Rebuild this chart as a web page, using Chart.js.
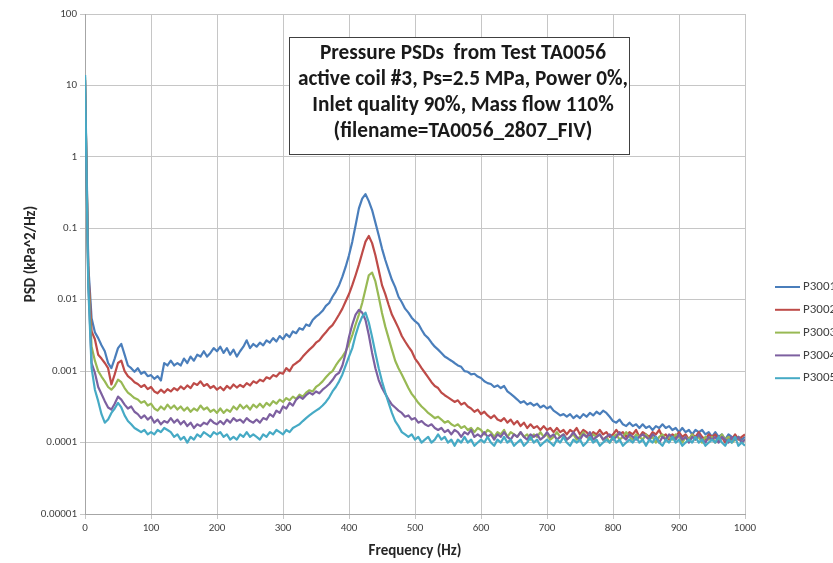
<!DOCTYPE html>
<html>
<head>
<meta charset="utf-8">
<script src="https://cdn.jsdelivr.net/npm/chart.js@4/dist/chart.umd.min.js"></script>
<style>
  html, body { margin: 0; padding: 0; background: #fff; }
  #wrap { width: 833px; height: 563px; }
</style>
</head>
<body>
<div id="wrap"><canvas id="psd" width="833" height="563"></canvas></div>
<script>
// sample frequencies (Hz)
var freq = [
  0, 5, 10, 15, 20, 25, 30, 35, 40, 45, 50, 55, 60, 65, 70, 75, 80, 85, 90, 95,
  100, 105, 110, 115, 120, 125, 130, 135, 140, 145, 150, 155, 160, 165, 170, 175, 180, 185, 190, 195,
  200, 205, 210, 215, 220, 225, 230, 235, 240, 245, 250, 255, 260, 265, 270, 275, 280, 285, 290, 295,
  300, 305, 310, 315, 320, 325, 330, 335, 340, 345, 350, 355, 360, 365, 370, 375, 380, 385, 390, 395,
  400, 405, 410, 415, 420, 425, 430, 435, 440, 445, 450, 455, 460, 465, 470, 475, 480, 485, 490, 495,
  500, 505, 510, 515, 520, 525, 530, 535, 540, 545, 550, 555, 560, 565, 570, 575, 580, 585, 590, 595,
  600, 605, 610, 615, 620, 625, 630, 635, 640, 645, 650, 655, 660, 665, 670, 675, 680, 685, 690, 695,
  700, 705, 710, 715, 720, 725, 730, 735, 740, 745, 750, 755, 760, 765, 770, 775, 780, 785, 790, 795,
  800, 805, 810, 815, 820, 825, 830, 835, 840, 845, 850, 855, 860, 865, 870, 875, 880, 885, 890, 895,
  900, 905, 910, 915, 920, 925, 930, 935, 940, 945, 950, 955, 960, 965, 970, 975, 980, 985, 990, 995,
  1000
];

var p3001 = [
  14, 0.03, 0.0055, 0.0035, 0.0029, 0.0023, 0.0019, 0.0013, 0.0011, 0.0015,
  0.0021, 0.0024, 0.0017, 0.0012, 0.0011, 0.00098, 0.0011, 0.00092, 0.00098, 0.00085,
  0.00088, 0.00078, 0.00085, 0.00074, 0.0013, 0.0012, 0.0014, 0.0012, 0.0013, 0.0012,
  0.0015, 0.0013, 0.0016, 0.0014, 0.0017, 0.0016, 0.0019, 0.0016, 0.0018, 0.0021,
  0.0019, 0.0022, 0.0018, 0.0021, 0.0017, 0.0020, 0.0016, 0.0019, 0.0022, 0.0027,
  0.0021, 0.0024, 0.0022, 0.0025, 0.0023, 0.0027, 0.0025, 0.0029, 0.0026, 0.0031,
  0.0028, 0.0033, 0.0030, 0.0036, 0.0034, 0.0040, 0.0038, 0.0045, 0.0043, 0.0052,
  0.0058, 0.0063, 0.0070, 0.0082, 0.0090, 0.011, 0.013, 0.016, 0.021, 0.029,
  0.042, 0.065, 0.11, 0.19, 0.26, 0.30, 0.24, 0.18, 0.12, 0.080,
  0.052, 0.036, 0.026, 0.019, 0.015, 0.011, 0.0092, 0.0075, 0.0066, 0.0056,
  0.0050, 0.0046, 0.0038, 0.0032, 0.0029, 0.0025, 0.0022, 0.0020, 0.0018, 0.0016,
  0.0015, 0.0014, 0.0013, 0.0012, 0.00115, 0.0010, 0.00098, 0.00090, 0.00092, 0.00084,
  0.00080, 0.00072, 0.00068, 0.00066, 0.00060, 0.00063, 0.00058, 0.00062, 0.00052, 0.00048,
  0.00044, 0.00040, 0.00036, 0.00038, 0.00034, 0.00036, 0.00033, 0.00035, 0.00031, 0.00033,
  0.00030, 0.00032, 0.00028, 0.00026, 0.00024, 0.00025, 0.00023, 0.00025, 0.00022, 0.00024,
  0.00022, 0.00025, 0.00023, 0.00026, 0.00024, 0.00027, 0.00025, 0.00028, 0.00026, 0.00023,
  0.00020, 0.00019, 0.00021, 0.00018, 0.00017, 0.00019, 0.00017, 0.00018, 0.00016, 0.00018,
  0.00016, 0.00017, 0.00015, 0.00017, 0.00016, 0.00018, 0.00016, 0.00017, 0.00015, 0.00016,
  0.00014, 0.00016, 0.00014, 0.00015, 0.00013, 0.00015, 0.00014, 0.00015, 0.00013, 0.00014,
  0.00012, 0.00014, 0.00012, 0.00013, 0.00011, 0.00013, 0.00012, 0.00011, 0.00012, 0.00011,
  0.00012
];

var p3002 = [
  12, 0.025, 0.0036, 0.0028, 0.0017, 0.0015, 0.0013, 0.0011, 0.00065, 0.0009,
  0.0013, 0.0014, 0.0010, 0.00085, 0.00078, 0.00070, 0.00066, 0.00060, 0.00064, 0.00056,
  0.00060, 0.00052, 0.00049, 0.00055, 0.00050, 0.00056, 0.00052, 0.00058, 0.00054, 0.00061,
  0.00056, 0.00063, 0.00058, 0.00068, 0.00064, 0.00072, 0.00062, 0.00066, 0.00058, 0.00062,
  0.00055, 0.00060, 0.00054, 0.00062, 0.00057, 0.00065, 0.00059, 0.00064, 0.00060, 0.00068,
  0.00063, 0.00072, 0.00068, 0.00076, 0.00072, 0.00082, 0.00078, 0.00088, 0.00084, 0.00095,
  0.00092, 0.0011, 0.0010, 0.0012, 0.0013, 0.0014, 0.0016, 0.0018, 0.0020, 0.0022,
  0.0025, 0.0027, 0.0031, 0.0035, 0.0040, 0.0044, 0.0052, 0.0062, 0.0075, 0.0095,
  0.012, 0.016, 0.022, 0.031, 0.045, 0.065, 0.078, 0.062, 0.042, 0.026,
  0.016, 0.012, 0.0085, 0.0062, 0.0050, 0.0040, 0.0031, 0.0026, 0.0022, 0.0019,
  0.0015, 0.0013, 0.0011, 0.00095, 0.00082, 0.00070, 0.00062, 0.00058, 0.00050, 0.00046,
  0.00043, 0.00040, 0.00037, 0.00039, 0.00034, 0.00036, 0.00032, 0.00030, 0.00027, 0.00029,
  0.00025, 0.00027, 0.00024, 0.00022, 0.00024, 0.00021, 0.00020, 0.00022, 0.00019, 0.00021,
  0.00018, 0.00020, 0.00017, 0.00019, 0.00016, 0.00018, 0.00016, 0.00017, 0.00015, 0.00017,
  0.00015, 0.00016, 0.00014, 0.00016, 0.00014, 0.00015, 0.00013, 0.00015, 0.00014, 0.00016,
  0.00013, 0.00015, 0.00014, 0.00012, 0.00014, 0.00013, 0.00015, 0.00013, 0.00014, 0.00012,
  0.00013, 0.00015, 0.00013, 0.00014, 0.00012, 0.00014, 0.00013, 0.00015, 0.00012, 0.00014,
  0.00013, 0.00012, 0.00014, 0.00013, 0.00015, 0.00012, 0.00013, 0.00011, 0.00013, 0.00012,
  0.00014, 0.00012, 0.00013, 0.00011, 0.00013, 0.00012, 0.00014, 0.00012, 0.00011, 0.00013,
  0.00012, 0.00013, 0.00011, 0.00012, 0.00010, 0.00012, 0.00011, 0.00013, 0.00011, 0.00012,
  0.00013
];

var p3003 = [
  13, 0.02, 0.0022, 0.0014, 0.0010, 0.00084, 0.00072, 0.00060, 0.00055, 0.00062,
  0.00076, 0.00070, 0.00058, 0.00050, 0.00046, 0.00042, 0.00040, 0.00036, 0.00038, 0.00033,
  0.00035, 0.00030, 0.00028, 0.00032, 0.00029, 0.00034, 0.00030, 0.00033, 0.00029, 0.00032,
  0.00028, 0.00031, 0.00027, 0.00030, 0.00028, 0.00033, 0.00029, 0.00031, 0.00027, 0.00029,
  0.00026, 0.00030, 0.00026, 0.00029, 0.00027, 0.00032, 0.00029, 0.00034, 0.00030, 0.00033,
  0.00029, 0.00034, 0.00031, 0.00035, 0.00031, 0.00036, 0.00033, 0.00038, 0.00035, 0.00040,
  0.00037, 0.00042, 0.00039, 0.00044, 0.00041, 0.00047, 0.00044, 0.00050, 0.00054, 0.00052,
  0.00060, 0.00065, 0.00072, 0.00082, 0.00092, 0.0010, 0.0012, 0.0014, 0.0016, 0.0019,
  0.0024, 0.0032, 0.0045, 0.0062, 0.0090, 0.014, 0.022, 0.024, 0.018, 0.011,
  0.0065, 0.0042, 0.0029, 0.0020, 0.0014, 0.0011, 0.00090, 0.00072, 0.00058, 0.00048,
  0.00042, 0.00036, 0.00032, 0.00029, 0.00026, 0.00024, 0.00022, 0.00023, 0.00021, 0.00019,
  0.00020, 0.00018, 0.00017, 0.00018, 0.00016, 0.00017, 0.00015, 0.00016, 0.00014, 0.00016,
  0.00015, 0.00013, 0.00015, 0.00014, 0.00012, 0.00014, 0.00013, 0.00015, 0.00012, 0.00014,
  0.00013, 0.00012, 0.00014, 0.00012, 0.00013, 0.00011, 0.00013, 0.00012, 0.00014, 0.00012,
  0.00013, 0.00011, 0.00012, 0.00014, 0.00012, 0.00013, 0.00011, 0.00012, 0.00013, 0.00011,
  0.00012, 0.00014, 0.00012, 0.00011, 0.00013, 0.00012, 0.00013, 0.00011, 0.00012, 0.00010,
  0.00012, 0.00013, 0.00011, 0.00012, 0.00014, 0.00012, 0.00011, 0.00013, 0.00012, 0.00011,
  0.00013, 0.00011, 0.00012, 0.00010, 0.00012, 0.00013, 0.00011, 0.00012, 0.00011, 0.00013,
  0.00012, 0.00010, 0.00012, 0.00011, 0.00013, 0.00011, 0.00012, 0.00010, 0.00012, 0.00011,
  0.00012, 0.00010, 0.00011, 0.00013, 0.00011, 0.00012, 0.00010, 0.00011, 0.00012, 0.00010,
  0.00011
];

var p3004 = [
  12, 0.018, 0.0013, 0.00095, 0.00060, 0.00048, 0.00038, 0.00031, 0.00029, 0.00035,
  0.00044, 0.00040, 0.00034, 0.00030, 0.00032, 0.00027, 0.00025, 0.00022, 0.00024, 0.00021,
  0.00023, 0.00019, 0.00021, 0.00018, 0.00020, 0.00019, 0.00022, 0.00019, 0.00021, 0.00018,
  0.00020, 0.00017, 0.00019, 0.00016, 0.00018, 0.00017, 0.00019, 0.00018, 0.00021, 0.00019,
  0.00018, 0.00020, 0.00018, 0.00021, 0.00019, 0.00022, 0.00020, 0.00021, 0.00019, 0.00022,
  0.00020, 0.00019, 0.00021, 0.00019, 0.00022, 0.00021, 0.00025, 0.00023, 0.00028, 0.00026,
  0.00032, 0.00030, 0.00036, 0.00033, 0.00040, 0.00044, 0.00041, 0.00046, 0.00050, 0.00047,
  0.00052, 0.00049, 0.00055, 0.00060, 0.00066, 0.00075, 0.00088, 0.00095, 0.0012, 0.0018,
  0.0030, 0.0045, 0.0062, 0.0072, 0.0066, 0.0052, 0.0032, 0.0018, 0.0011, 0.00075,
  0.00058, 0.00048, 0.00040, 0.00034, 0.00031, 0.00028, 0.00026, 0.00023, 0.00024, 0.00021,
  0.00022, 0.00019, 0.00020, 0.00018, 0.00017, 0.00018, 0.00016, 0.00015, 0.00016, 0.00014,
  0.00015, 0.00013, 0.00015, 0.00014, 0.00012, 0.00014, 0.00013, 0.00015, 0.00012, 0.00013,
  0.00012, 0.00014, 0.00012, 0.00013, 0.00011, 0.00013, 0.00012, 0.00014, 0.00012, 0.00011,
  0.00013, 0.00012, 0.00014, 0.00012, 0.00011, 0.00013, 0.00012, 0.00013, 0.00011, 0.00012,
  0.00014, 0.00012, 0.00013, 0.00011, 0.00012, 0.00013, 0.00011, 0.00012, 0.00014, 0.00012,
  0.00011, 0.00013, 0.00012, 0.00014, 0.00011, 0.00012, 0.00013, 0.00011, 0.00012, 0.00013,
  0.00011, 0.00012, 0.00014, 0.00012, 0.00011, 0.00013, 0.00012, 0.00011, 0.00012, 0.00013,
  0.00012, 0.00011, 0.00013, 0.00012, 0.00010, 0.00012, 0.00011, 0.00013, 0.00012, 0.00011,
  0.00013, 0.00011, 0.00012, 0.00010, 0.00012, 0.00011, 0.00013, 0.00011, 0.00010, 0.00012,
  0.00011, 0.00012, 0.00010, 0.00012, 0.00011, 0.00010, 0.00012, 0.00011, 0.00012, 0.00010,
  0.00011
];

var p3005 = [
  14, 0.015, 0.0011, 0.00055, 0.00038, 0.00025, 0.00019, 0.00021, 0.00026, 0.00030,
  0.00036, 0.00031, 0.00024, 0.00020, 0.00018, 0.00016, 0.00015, 0.00014, 0.00015, 0.00013,
  0.00014, 0.00013, 0.00015, 0.00014, 0.00016, 0.00015, 0.00014, 0.00012, 0.00013, 0.00011,
  0.00012, 0.00010, 0.00012, 0.00011, 0.00013, 0.00012, 0.00014, 0.00013, 0.00012, 0.00014,
  0.00013, 0.00014, 0.00012, 0.00013, 0.00011, 0.00012, 0.00011, 0.00013, 0.00012, 0.00014,
  0.00012, 0.00013, 0.00012, 0.00011, 0.00013, 0.00012, 0.00014, 0.00013, 0.00015, 0.00014,
  0.00013, 0.00015, 0.00014, 0.00016, 0.00017, 0.00018, 0.00020, 0.00022, 0.00024, 0.00026,
  0.00028, 0.00030, 0.00033, 0.00037, 0.00043, 0.00052, 0.00060, 0.00072, 0.00090, 0.0012,
  0.0016, 0.0021, 0.0032, 0.0045, 0.0058, 0.0066, 0.0048, 0.0030, 0.0018, 0.0011,
  0.00072, 0.00050, 0.00036, 0.00026, 0.00020, 0.00017, 0.00014, 0.00013, 0.00012, 0.00013,
  0.00011, 0.00012, 0.00010, 0.00011, 0.00012, 0.00010, 0.00011, 0.00013, 0.00011, 0.00012,
  0.00010, 0.00011, 0.00009, 0.00011, 0.00010, 0.00012, 0.00010, 0.00011, 0.00009, 0.00010,
  0.00011, 0.00010, 0.00012, 0.00010, 0.00009, 0.00011, 0.00010, 0.00012, 0.00010, 0.00011,
  0.00009, 0.00010, 0.00011, 0.00009, 0.00010, 0.00012, 0.00010, 0.00011, 0.00009, 0.00010,
  0.00011, 0.00010, 0.00009, 0.00011, 0.00010, 0.00012, 0.00010, 0.00009, 0.00011, 0.00010,
  0.00011, 0.00009, 0.00010, 0.00012, 0.00010, 0.00011, 0.00009, 0.00010, 0.00011, 0.00010,
  0.00012, 0.00010, 0.00011, 0.00009, 0.00010, 0.00011, 0.00010, 0.00012, 0.00010, 0.00011,
  0.00009, 0.00011, 0.00010, 0.00012, 0.00010, 0.00009, 0.00011, 0.00010, 0.00012, 0.00010,
  0.00011, 0.00009, 0.00010, 0.00011, 0.00010, 0.00012, 0.00010, 0.00011, 0.00009, 0.00010,
  0.00011, 0.00010, 0.00012, 0.00010, 0.00009, 0.00011, 0.00010, 0.00012, 0.00009, 0.00010,
  0.00009
];

var seriesNames = ["P3001", "P3002", "P3003", "P3004", "P3005"];
var seriesColors = ["#4a7ebb", "#be4b48", "#98b954", "#7d60a0", "#46aac5"];
var yTicks = [0.00001, 0.0001, 0.001, 0.01, 0.1, 1, 10, 100];

var titleLines = [
    "Pressure PSDs  from Test TA0056",
    "active coil #3, Ps=2.5 MPa, Power 0%,",
    "Inlet quality 90%, Mass flow 110%",
    "(filename=TA0056_2807_FIV)"
];

var fam = "Carlito, Calibri, Lato, 'Open Sans', sans-serif";

function toPoints(values) {
    var pts = [];
    for (var i = 0; i < freq.length; i++) {
        pts.push({x: freq[i], y: values[i]});
    }
    return pts;
}

var allValues = [p3001, p3002, p3003, p3004, p3005];
var datasets = [];
for (var s = 0; s < allValues.length; s++) {
    datasets.push({
        label: seriesNames[s],
        data: toPoints(allValues[s]),
        borderColor: seriesColors[s],
        backgroundColor: seriesColors[s],
        borderWidth: 2.2,
        pointRadius: 0,
        tension: 0,
        borderJoinStyle: 'round',
        order: allValues.length - s
    });
}

// text box, y axis title and legend
var extras = {
    id: 'extras',
    afterDraw: function (chart) {
        var ctx = chart.ctx;
        var area = chart.chartArea;
        ctx.save();

        // y axis title (sits a little above the plot centre in the original)
        ctx.translate(31, (area.top + area.bottom) / 2 - 10);
        ctx.rotate(-Math.PI / 2);
        ctx.font = "bold 15px " + fam;
        ctx.fillStyle = "#262626";
        ctx.textAlign = "center";
        ctx.textBaseline = "middle";
        ctx.fillText("PSD (kPa^2/Hz)", 0, 0);
        ctx.setTransform(1, 0, 0, 1, 0, 0);

        // boxed note
        ctx.fillStyle = "#fff";
        ctx.fillRect(289.5, 37.5, 340, 117);
        ctx.strokeStyle = "#404040";
        ctx.lineWidth = 1;
        ctx.strokeRect(289.5, 37.5, 340, 117);
        ctx.font = "bold 100px " + fam;
        var w = ctx.measureText(titleLines[1]).width;
        var size = 100 * 331 / w;
        ctx.font = "bold " + size.toFixed(1) + "px " + fam;
        ctx.fillStyle = "#1a1a1a";
        ctx.textAlign = "center";
        ctx.textBaseline = "middle";
        for (var i = 0; i < titleLines.length; i++) {
            ctx.fillText(titleLines[i], 463, 54 + i * 26);
        }

        // legend (runs off the right edge like the original)
        ctx.font = "13px " + fam;
        ctx.textAlign = "left";
        for (var k = 0; k < chart.data.datasets.length; k++) {
            var ds = chart.data.datasets[k];
            var ly = 287 + k * 22.8;
            ctx.strokeStyle = ds.borderColor;
            ctx.lineWidth = 2;
            ctx.beginPath();
            ctx.moveTo(775, ly);
            ctx.lineTo(800, ly);
            ctx.stroke();
            ctx.fillStyle = "#404040";
            ctx.fillText(ds.label, 803, ly);
        }
        ctx.restore();
    }
};

var ctx = document.getElementById("psd");

var chart = new Chart(ctx, {
    type: 'line',
    data: { datasets: datasets },
    options: {
        responsive: false,
        animation: false,
        layout: { padding: { top: 14, right: 88, left: 0, bottom: 0 } },
        plugins: {
            legend: { display: false },
            tooltip: { enabled: false }
        },
        scales: {
            x: {
                type: 'linear',
                min: 0,
                max: 1000,
                ticks: {
                    stepSize: 100,
                    color: "#404040",
                    font: { family: fam, size: 11 },
                    padding: 3,
                    maxRotation: 0,
                    callback: function (v) { return String(v); }
                },
                grid: { color: "#c6c6c6", tickLength: 5 },
                border: { color: "#a6a6a6" },
                title: {
                    display: true,
                    text: "Frequency (Hz)",
                    color: "#262626",
                    font: { family: fam, size: 15, weight: 'bold' },
                    padding: { top: 4, bottom: 3 }
                },
                afterFit: function (scale) { scale.height = 49; }
            },
            y: {
                type: 'logarithmic',
                min: 0.00001,
                max: 100,
                afterBuildTicks: function (scale) {
                    scale.ticks = yTicks.map(function (v) { return {value: v}; });
                },
                ticks: {
                    color: "#404040",
                    font: { family: fam, size: 11 },
                    padding: 3,
                    callback: function (v) { return String(v); }
                },
                grid: { color: "#c6c6c6", tickLength: 5 },
                border: { color: "#a6a6a6" },
                afterFit: function (scale) { scale.width = 85; }
            }
        }
    },
    plugins: [extras]
});
</script>
</body>
</html>
